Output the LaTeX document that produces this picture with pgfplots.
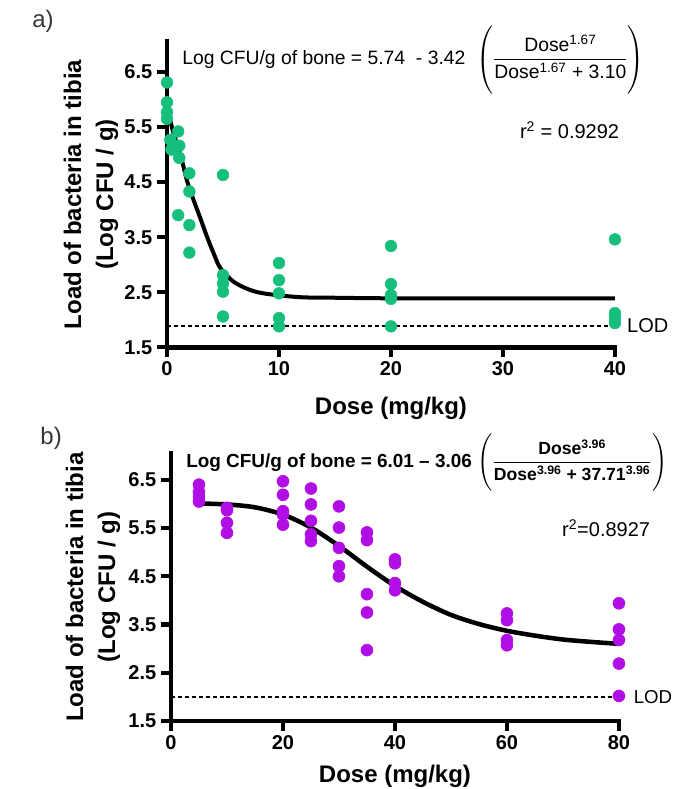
\documentclass[border=0pt]{standalone}
\usepackage{fontspec}
\setmainfont{Liberation Sans}
\usepackage{amsmath}
\usepackage{pgfplots}
\pgfplotsset{compat=1.18}
\definecolor{dotgreen}{RGB}{22,192,124}
\definecolor{dotpurple}{RGB}{176,14,228}
\definecolor{panelgray}{RGB}{55,55,55}

\pgfplotsset{panel/.style={
  scale only axis, clip=false,
  axis lines=left,
  axis line style={-, line width=3.4pt, line cap=rect},
  tick align=outside, major tick length=7.5pt,
  tick style={line width=3.2pt, black},
  /pgf/number format/assume math mode=true,
  tick label style={font=\bfseries\fontsize{15}{18}\selectfont},
  y tick label style={/pgf/number format/.cd, fixed, fixed zerofill, precision=1, /tikz/.cd},
  ymin=1.5, ymax=7.05, ytick={1.5,2.5,3.5,4.5,5.5,6.5},
  xlabel={Dose (mg/kg)},
  ylabel={Load of bacteria in tibia\\(Log CFU / g)},
  xlabel style={font=\bfseries\fontsize{18}{22}\selectfont, anchor=center},
  ylabel style={font=\bfseries\fontsize{18}{24}\selectfont, align=center, anchor=center},
}}

\pgfplotstableread{
x y
0 6.31
0 5.95
0 5.77
0 5.65
0.3 5.27
0.4 5.09
1 5.42
1.1 5.16
1.1 4.94
1 3.90
2 4.66
2 4.33
2 3.72
2 3.22
5 4.63
5 2.81
5 2.66
5 2.51
5 2.06
10 3.03
10 2.72
10 2.48
10 2.03
10 1.88
20 3.34
20 2.65
20 2.45
20 2.38
20 1.88
40 3.46
40 2.12
40 2.03
40 1.94
}\dataA

\pgfplotstableread{
x y
5 6.40
5 6.25
5 6.15
5 6.05
10 5.92
10 5.87
10 5.61
10 5.40
20 6.47
20 6.19
20 5.85
20 5.78
20 5.57
25 6.32
25 5.99
25 5.65
25 5.37
25 5.23
30 5.95
30 5.51
30 5.09
30 4.71
30 4.50
35 5.41
35 5.25
35 4.13
35 3.75
35 2.97
40 4.85
40 4.77
40 4.36
40 4.21
60 3.73
60 3.59
60 3.18
60 3.07
80 3.94
80 3.40
80 3.18
80 2.69
80 2.02
}\dataB

\begin{document}
\begin{tikzpicture}
\useasboundingbox (-125.25pt,-331.3pt) rectangle (382.5pt,260.5pt);

% panel a
\begin{axis}[panel,
  at={(0pt,0pt)}, anchor=origin,
  width=336pt, height=229.2pt,
  xmin=0, xmax=40, xtick={0,10,20,30,40},
  xlabel style={at={(axis description cs:0.5,-0.201)}},
  ylabel style={at={(axis description cs:-0.1696,0.5)}},
]
\addplot[only marks, mark=*, mark size=4.4pt, color=dotgreen, mark options={draw=none}] table {\dataA};
\addplot[black, line width=3pt, smooth, tension=0.5] coordinates {
(0,5.85) (0.12,5.80) (0.42,5.51) (0.75,5.28) (1.07,5.09) (1.45,4.80) (1.81,4.51)
(2.4,4.16) (2.97,3.85) (3.57,3.51) (4.2,3.19) (4.76,2.94) (5.95,2.69) (7.44,2.54)
(8.93,2.47) (11.9,2.41) (15,2.40) (20,2.39) (30,2.39) (40,2.39)};
\addplot[black, line width=1.5pt, dash pattern=on 3pt off 2.2pt] coordinates {(0,1.89) (40,1.89)};
\node[anchor=base west, inner sep=0, font=\fontsize{14.5}{17}\selectfont] at (axis cs:1.34,6.633)
  {Log CFU/g of bone = 5.74\ \ - 3.42\hspace{8pt}$\displaystyle\left(\vrule height 27.6pt depth 20.4pt width 0pt
   \frac{\mbox{Dose\textsuperscript{1.67}}}{\mbox{Dose\textsuperscript{1.67} + 3.10}}\right)$};
\node[anchor=west, inner sep=0, font=\fontsize{15}{18}\selectfont] at (axis cs:31.5,5.45) {r\textsuperscript{2} = 0.9292};
\node[anchor=west, inner sep=0, font=\fontsize{15}{18}\selectfont] at (axis cs:41.07,1.89) {LOD};
\node[anchor=center, inner sep=0, text=panelgray, font=\fontsize{18}{22}\selectfont] at (axis cs:-11.07,7.43) {a)};
\end{axis}

% panel b
\begin{axis}[panel,
  at={(3pt,-280.3pt)}, anchor=origin,
  width=336pt, height=200.8pt,
  xmin=0, xmax=80, xtick={0,20,40,60,80},
  xlabel style={at={(axis description cs:0.5,-0.2054)}},
  ylabel style={at={(axis description cs:-0.174,0.5)}},
]
\addplot[only marks, mark=*, mark size=4.5pt, color=dotpurple, mark options={draw=none}] table {\dataB};
\addplot[black, line width=3.4pt, smooth] coordinates {
(5,6.01) (10,5.99) (15,5.93) (20,5.78) (25,5.51) (30,5.13) (35,4.70) (40,4.30)
(45,3.97) (50,3.70) (55,3.51) (60,3.37) (65,3.27) (70,3.19) (75,3.14) (80,3.10)};
\addplot[black, line width=1.5pt, dash pattern=on 3pt off 2.2pt] coordinates {(0,2.0) (80,2.0)};
\node[anchor=base west, inner sep=0, font=\bfseries\fontsize{14.2}{17}\selectfont] at (axis cs:2.68,6.765)
  {Log CFU/g of bone = 6.01 -- 3.06\hspace{4pt}$\displaystyle\left(\vrule height 26.1pt depth 18.9pt width 0pt
   \frac{\mbox{\bfseries\fontsize{13.2}{16}\selectfont Dose\textsuperscript{3.96}}}{\mbox{\bfseries\fontsize{13.2}{16}\selectfont Dose\textsuperscript{3.96} + 37.71\textsuperscript{3.96}}}\right)$};
\node[anchor=west, inner sep=0, font=\fontsize{15}{18}\selectfont] at (axis cs:69.8,5.496) {r\textsuperscript{2}=0.8927};
\node[anchor=west, inner sep=0, font=\fontsize{14}{17}\selectfont] at (axis cs:82.6,2.0) {LOD};
\node[anchor=center, inner sep=0, text=panelgray, font=\fontsize{18}{22}\selectfont] at (axis cs:-21.4,7.37) {b)};
\end{axis}
\end{tikzpicture}
\end{document}
